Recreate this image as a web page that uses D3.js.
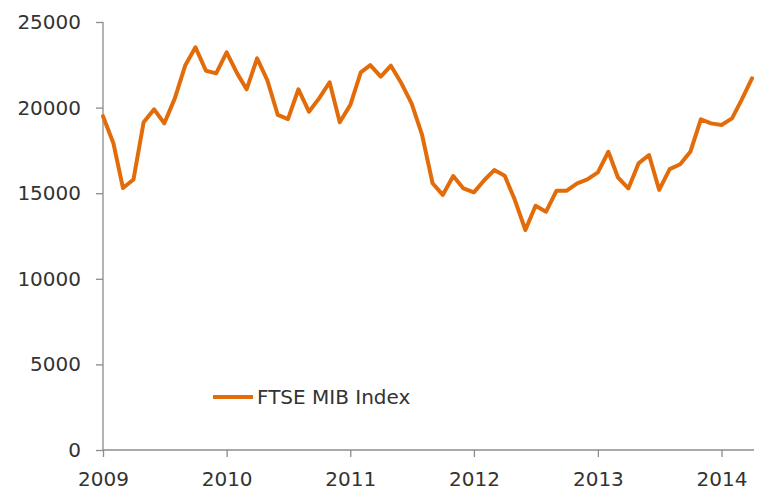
<!DOCTYPE html>
<html>
<head>
<meta charset="utf-8">
<script src="https://cdn.jsdelivr.net/npm/d3@7"></script>
<style>
  body { margin: 0; background: #fff; }
  svg { display: block; font-family: "DejaVu Sans", sans-serif; }
  .axis path, .axis line { stroke: #8c8c8c; stroke-width: 1.3px; }
  .axis text { fill: #333; font-size: 20px; font-family: "DejaVu Sans", sans-serif; }
</style>
</head>
<body>
<svg id="chart"></svg>
<script>
// monthly closes of the FTSE MIB index
const months = [
  "2009-01","2009-02","2009-03","2009-04","2009-05","2009-06","2009-07","2009-08","2009-09","2009-10","2009-11","2009-12",
  "2010-01","2010-02","2010-03","2010-04","2010-05","2010-06","2010-07","2010-08","2010-09","2010-10","2010-11","2010-12",
  "2011-01","2011-02","2011-03","2011-04","2011-05","2011-06","2011-07","2011-08","2011-09","2011-10","2011-11","2011-12",
  "2012-01","2012-02","2012-03","2012-04","2012-05","2012-06","2012-07","2012-08","2012-09","2012-10","2012-11","2012-12",
  "2013-01","2013-02","2013-03","2013-04","2013-05","2013-06","2013-07","2013-08","2013-09","2013-10","2013-11","2013-12",
  "2014-01","2014-02","2014-03","2014-04"
];
const ftseMib = [
  19500, 17900, 15300, 15800, 19150, 19900, 19080, 20540, 22480, 23520, 22150, 22000,
  23230, 22000, 21070, 22880, 21610, 19570, 19330, 21070, 19760, 20540, 21480, 19140,
  20150, 22060, 22480, 21810, 22450, 21420, 20250, 18400, 15580, 14900, 16000, 15280,
  15050, 15770, 16350, 16020, 14600, 12850, 14270, 13920, 15150, 15150, 15580, 15810,
  16220, 17420, 15930, 15280, 16740, 17230, 15190, 16410, 16690, 17420, 19310, 19080,
  18980, 19370, 20440, 21710
];
const yearTicks = ["2009","2010","2011","2012","2013","2014"];
const valueTicks = [0, 5000, 10000, 15000, 20000, 25000];
const seriesName = "FTSE MIB Index";

const W = 760, H = 495;
const margin = { top: 22, right: 6, bottom: 45, left: 103 };
const width = W - margin.left - margin.right,
      height = H - margin.top - margin.bottom;

const parseMonth = d3.timeParse("%Y-%m");
const parseYear = d3.timeParse("%Y");
const data = months.map((m, i) => ({ date: parseMonth(m), value: ftseMib[i] }));

const svg = d3.select("#chart").attr("width", W).attr("height", H);
const g = svg.append("g").attr("transform", `translate(${margin.left},${margin.top})`);

const x = d3.scaleTime()
  .domain(d3.extent(data, d => d.date))
  .range([0, width - 2]);
const y = d3.scaleLinear().domain([0, 25000]).range([height, 0]);

g.append("g")
  .attr("class", "axis")
  .call(d3.axisLeft(y).tickValues(valueTicks).tickFormat(d3.format("d")).tickSize(7).tickPadding(15))
  .call(a => a.select(".domain").attr("d", `M0,0V${height}`));

g.append("g")
  .attr("class", "axis")
  .attr("transform", `translate(0,${height})`)
  .call(d3.axisBottom(x).tickValues(yearTicks.map(parseYear)).tickFormat(d3.timeFormat("%Y")).tickSize(7).tickPadding(15))
  .call(a => a.select(".domain").attr("d", `M0,0H${width}`));

const line = d3.line().x(d => x(d.date)).y(d => y(d.value));

g.append("path")
  .datum(data)
  .attr("fill", "none")
  .attr("stroke", "#E36C0A")
  .attr("stroke-width", 4)
  .attr("stroke-linejoin", "round")
  .attr("stroke-linecap", "round")
  .attr("d", line);

// legend
const legend = svg.append("g").attr("transform", "translate(213,397)");
legend.append("line")
  .attr("x1", 0).attr("x2", 40)
  .attr("stroke", "#E36C0A").attr("stroke-width", 4);
legend.append("text")
  .attr("x", 44).attr("dy", "0.36em")
  .attr("fill", "#333").style("font-size", "20px")
  .text(seriesName);
</script>
</body>
</html>
